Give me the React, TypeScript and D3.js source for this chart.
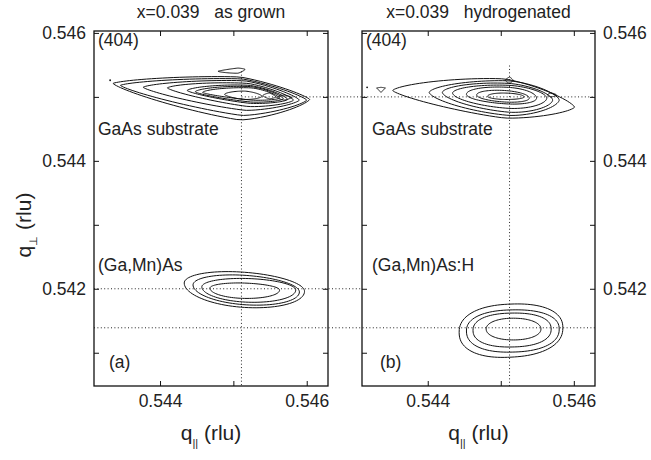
import React, { useEffect, useRef } from 'react'
import * as d3 from 'd3'

// contour ring = [qParLeftTip, qPerpLeftTip, qParRightTip, qPerpRightTip, qParWidest, qPerpTop, qPerpBottom, roundness]
const substrateGrown = [
    [0.54336, 0.54521, 0.54604, 0.54496, 0.54509, 0.54531, 0.54464, 1.3],
    [0.54346, 0.54518, 0.54600, 0.54495, 0.54512, 0.54528, 0.54471, 1.3],
    [0.54377, 0.54515, 0.54590, 0.54495, 0.54516, 0.54525, 0.54479, 1.35],
    [0.54410, 0.54514, 0.54582, 0.54495, 0.54520, 0.54521, 0.54485, 1.4],
    [0.54437, 0.54510, 0.54574, 0.54496, 0.54522, 0.54518, 0.54490, 1.45],
    [0.54448, 0.54508, 0.54568, 0.54497, 0.54524, 0.54516, 0.54492, 1.5],
    [0.54458, 0.54507, 0.54563, 0.54498, 0.54525, 0.54514, 0.54495, 1.5],
    [0.54488, 0.54504, 0.54539, 0.54501, 0.54516, 0.54509, 0.54496, 1.6],
    [0.54540, 0.54502, 0.54558, 0.54500, 0.54549, 0.54506, 0.54497, 1.3],
    [0.54559, 0.54499, 0.54580, 0.54499, 0.54569, 0.54503, 0.54495, 1.2],
    [0.54479, 0.54540, 0.54516, 0.54543, 0.54506, 0.54545, 0.54537, 1.3],
]
const layerGrown = [
    [0.54433, 0.54209, 0.54597, 0.54196, 0.54513, 0.54226, 0.54171, 2],
    [0.54445, 0.54206, 0.54590, 0.54195, 0.54516, 0.54221, 0.54175, 2],
    [0.54457, 0.54203, 0.54585, 0.54198, 0.54520, 0.54216, 0.54179, 2],
    [0.54468, 0.54201, 0.54563, 0.54198, 0.54513, 0.54209, 0.54185, 2],
]
const substrateHydro = [
    [0.54352, 0.54510, 0.54601, 0.54484, 0.54505, 0.54528, 0.54467, 1.4],
    [0.54402, 0.54507, 0.54580, 0.54495, 0.54512, 0.54525, 0.54471, 1.6],
    [0.54420, 0.54507, 0.54571, 0.54495, 0.54512, 0.54521, 0.54476, 1.7],
    [0.54434, 0.54506, 0.54563, 0.54498, 0.54512, 0.54518, 0.54482, 1.8],
    [0.54453, 0.54504, 0.54549, 0.54498, 0.54509, 0.54515, 0.54489, 2],
    [0.54467, 0.54503, 0.54539, 0.54498, 0.54505, 0.54510, 0.54492, 2],
    [0.54482, 0.54501, 0.54532, 0.54500, 0.54505, 0.54506, 0.54496, 2],
    [0.54564, 0.54503, 0.54576, 0.54503, 0.54569, 0.54506, 0.54500, 1.5],
    [0.54330, 0.54514, 0.54342, 0.54514, 0.54336, 0.54515, 0.54507, 1],
    [0.54506, 0.54526, 0.54517, 0.54526, 0.54512, 0.54531, 0.54521, 1.2],
]
const layerHydro = [
    [0.54443, 0.54132, 0.54585, 0.54139, 0.54512, 0.54176, 0.54093, 2.3],
    [0.54453, 0.54134, 0.54580, 0.54137, 0.54515, 0.54167, 0.54101, 2.3],
    [0.54462, 0.54135, 0.54569, 0.54137, 0.54515, 0.54162, 0.54109, 2.3],
    [0.54480, 0.54137, 0.54555, 0.54137, 0.54517, 0.54154, 0.54120, 2.1],
]
const specksGrown = [[0.54332, 0.54526]]
const specksHydro = [[0.54317, 0.54515]]

// peak positions marked by dotted lines
const peakGrown = [0.54511, 0.5454]
const peakHydro = [0.54512, 0.54549]
const substrateLine = 0.5450
const layerLineGrown = 0.5420
const layerLineHydro = 0.54139

const xTicks = [0.544, 0.545, 0.546]
const yTicks = [0.541, 0.542, 0.543, 0.544, 0.545, 0.546]
const xDomain = [0.5431, 0.54629]
const yDomain = [0.54048, 0.54603]

const titles = ['x=0.039   as grown', 'x=0.039   hydrogenated']
const layerNames = ['(Ga,Mn)As', '(Ga,Mn)As:H']
const panelTags = ['(a)', '(b)']

const font = 'Arial, "Liberation Sans", Helvetica, sans-serif'

// superellipse-like lobe between two tips, widest at xw
const ringPoints = (r: number[]) => {
    const [xl, yl, xr, yr, xw, yt, yb, a] = r
    const n = 48
    const c = (x: number) => yl + (yr - yl) * (x - xl) / (xr - xl)
    const cw = c(xw)
    const s = (x: number) => {
        const v = x < xw ? (xw - x) / (xw - xl) : (x - xw) / (xr - xw)
        return Math.pow(Math.max(0, 1 - Math.pow(Math.min(1, v), a)), 1 / a)
    }
    const xs = d3.range(n + 1).map(i => xl + (xr - xl) * (1 - Math.cos(Math.PI * i / n)) / 2)
    const top = xs.map(x => [x, c(x) + (yt - cw) * s(x)])
    const bot = xs.slice(1, -1).reverse().map(x => [x, c(x) + (yb - cw) * s(x)])
    return top.concat(bot)
}

const TubeMap = () => {
    const svgRef = useRef<SVGSVGElement>(null)

    useEffect(() => {
        drawMap()
    }, [])

    const drawMap = () => {
        const svg: any = d3.select(svgRef.current)
        svg.selectAll('*').remove()

        const y = d3.scaleLinear().domain(yDomain).range([386, 31])
        const xs = [
            d3.scaleLinear().domain(xDomain).range([94, 328]),
            d3.scaleLinear().domain(xDomain).range([362, 595]),
        ]
        const rings = [substrateGrown.concat(layerGrown), substrateHydro.concat(layerHydro)]
        const specks = [specksGrown, specksHydro]
        const peaks = [peakGrown, peakHydro]
        const fmt = d3.format('.3f')
        const even = (d: number) => Math.round(d * 1000) % 2 === 0

        const dotted = (sel: any) => sel
            .attr('stroke', '#222')
            .attr('stroke-width', 1)
            .attr('stroke-dasharray', '1 2.4')
            .attr('fill', 'none')

        // dotted guide lines running across both panels
        const guides = [
            [xs[0](peakGrown[0]), xs[1].range()[1], substrateLine],
            [xs[0].range()[0], xs[1].range()[0], layerLineGrown],
            [xs[0].range()[0], xs[1].range()[1], layerLineHydro],
        ]
        svg.selectAll('.guide')
            .data(guides)
            .join('line')
            .attr('class', 'guide')
            .attr('x1', (d: number[]) => d[0])
            .attr('x2', (d: number[]) => d[1])
            .attr('y1', (d: number[]) => y(d[2]))
            .attr('y2', (d: number[]) => y(d[2]))
            .call(dotted)

        xs.forEach((x, i) => {
            const g = svg.append('g')
            const [x0, x1] = x.range()

            g.append('line')
                .attr('x1', x(peaks[i][0])).attr('x2', x(peaks[i][0]))
                .attr('y1', y(peaks[i][1])).attr('y2', y.range()[0])
                .call(dotted)

            const line = d3.line<number[]>()
                .x(d => x(d[0]))
                .y(d => y(d[1]))
                .curve(d3.curveLinearClosed)

            g.selectAll('.ring')
                .data(rings[i])
                .join('path')
                .attr('class', 'ring')
                .attr('d', (r: number[]) => line(ringPoints(r)))
                .attr('fill', 'none')
                .attr('stroke', '#111')
                .attr('stroke-width', 1)

            g.selectAll('.speck')
                .data(specks[i])
                .join('circle')
                .attr('class', 'speck')
                .attr('cx', (d: number[]) => x(d[0]))
                .attr('cy', (d: number[]) => y(d[1]))
                .attr('r', 0.9)
                .attr('fill', '#111')

            const styleAxis = (a: any) => {
                a.select('.domain').remove()
                a.selectAll('line').attr('stroke', '#111').attr('stroke-width', 1)
                a.selectAll('text')
                    .attr('font-family', font)
                    .attr('font-size', 17.5)
                    .attr('fill', '#222')
            }
            const lab = (d: any) => even(+d) ? fmt(+d) : ''
            const none = () => ''

            g.append('g').attr('transform', `translate(0,${y.range()[0]})`)
                .call(d3.axisBottom(x).tickValues(xTicks).tickSizeInner(-5).tickSizeOuter(0).tickPadding(9).tickFormat(lab))
                .call(styleAxis)
            g.append('g').attr('transform', `translate(0,${y.range()[1]})`)
                .call(d3.axisTop(x).tickValues(xTicks).tickSizeInner(-5).tickSizeOuter(0).tickFormat(none))
                .call(styleAxis)
            g.append('g').attr('transform', `translate(${x0},0)`)
                .call(d3.axisLeft(y).tickValues(yTicks).tickSizeInner(-5).tickSizeOuter(0).tickPadding(8).tickFormat(i === 0 ? lab : none))
                .call(styleAxis)
            g.append('g').attr('transform', `translate(${x1},0)`)
                .call(d3.axisRight(y).tickValues(yTicks).tickSizeInner(-5).tickSizeOuter(0).tickPadding(8).tickFormat(i === 1 ? lab : none))
                .call(styleAxis)

            g.append('rect')
                .attr('x', x0).attr('y', y.range()[1])
                .attr('width', x1 - x0).attr('height', y.range()[0] - y.range()[1])
                .attr('fill', 'none')
                .attr('stroke', '#111')
                .attr('stroke-width', 1.3)

            const cx = (x0 + x1) / 2
            const text = (tx: number, ty: number, s: string, size = 17.5, anchor = 'start') =>
                g.append('text')
                    .attr('x', tx).attr('y', ty)
                    .attr('font-family', font)
                    .attr('font-size', size)
                    .attr('fill', '#222')
                    .attr('text-anchor', anchor)
                    .style('white-space', 'pre')
                    .text(s)

            text(cx, 18, titles[i], 17.5, 'middle')
            text(x0 + 4, 46, '(404)')
            text(x0 + 4 + i * 6, 135, 'GaAs substrate')
            text(x0 + 4 + i * 6, 271, layerNames[i])
            text(x0 + 15 + i * 3, 368, panelTags[i])

            const t = g.append('text')
                .attr('x', cx).attr('y', 440)
                .attr('font-family', font)
                .attr('font-size', 21)
                .attr('fill', '#222')
                .attr('text-anchor', 'middle')
            t.append('tspan').text('q')
            t.append('tspan').attr('font-size', 11).attr('dy', 7).text('||')
            t.append('tspan').attr('dy', -7).text(' (rlu)')
        })

        const yt = svg.append('text')
            .attr('transform', 'translate(31,225) rotate(-90)')
            .attr('font-family', font)
            .attr('font-size', 21)
            .attr('fill', '#222')
            .attr('text-anchor', 'middle')
        yt.append('tspan').text('q')
        yt.append('tspan').attr('font-size', 11).attr('dy', 6).text('\u22a5')
        yt.append('tspan').attr('dy', -6).text(' (rlu)')
    }

    return (
        <svg ref={svgRef} width={651} height={460}
            style={{ position: 'absolute', left: 0, top: 0, background: '#fff' }}></svg>
    )
}

export default TubeMap
